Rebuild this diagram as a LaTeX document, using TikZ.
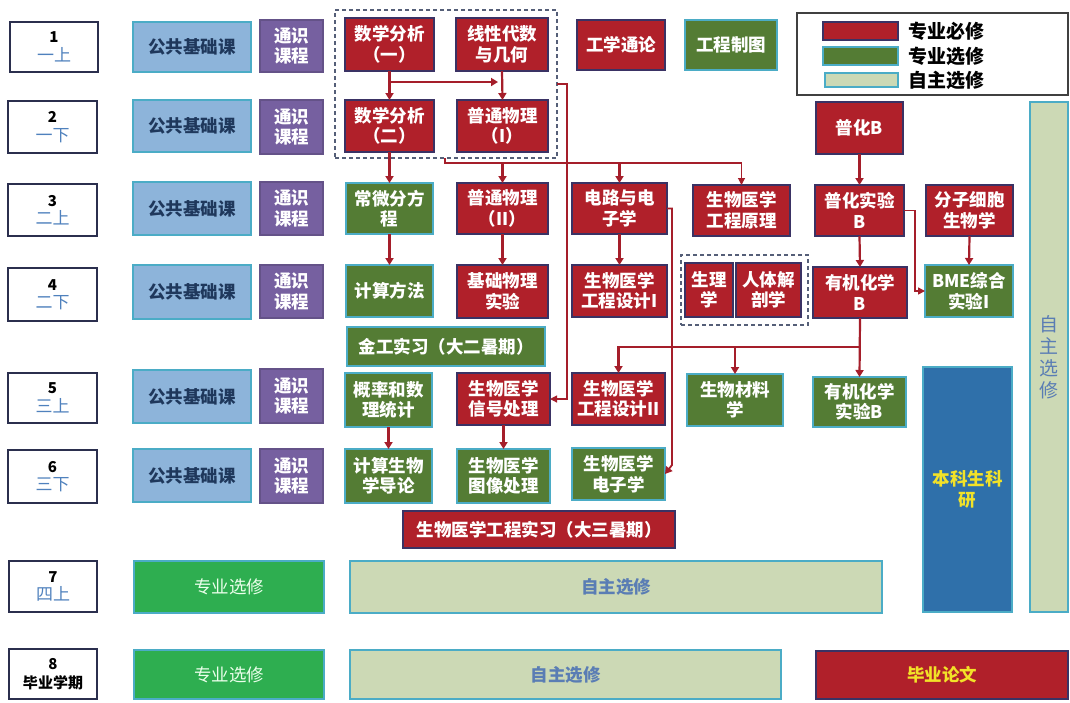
\documentclass[tikz,border=0pt]{standalone}
\usepackage{fontspec}
\setmainfont{Noto Sans CJK SC}
\usetikzlibrary{arrows.meta,calc}
\definecolor{cred}{RGB}{176,32,42}
\definecolor{credb}{RGB}{58,50,100}
\definecolor{cgreen}{RGB}{84,124,52}
\definecolor{ccyan}{RGB}{75,172,198}
\definecolor{cblue}{RGB}{141,180,218}
\definecolor{cnavy}{RGB}{31,56,92}
\definecolor{cpurp}{RGB}{118,96,160}
\definecolor{cbgreen}{RGB}{46,174,80}
\definecolor{clight}{RGB}{204,217,181}
\definecolor{clighttxt}{RGB}{90,125,180}
\definecolor{cresearch}{RGB}{47,112,170}
\definecolor{cyel}{RGB}{242,226,40}
\definecolor{carrow}{RGB}{165,30,42}
\definecolor{csem}{RGB}{43,47,78}
\definecolor{csemtxt}{RGB}{79,129,189}
\definecolor{cgrp}{RGB}{85,95,120}
\newcommand\rbox[7]{\node[#6, minimum width={(#4-#2)*1pt}, minimum height={(#5-#3)*1pt}] (#1) at ({(#2+#4)/2},{(#3+#5)/2}) {#7};}
\newcommand\semtxt[2]{{\fontsize{15}{17}\selectfont\bfseries #1}\\[-2pt]{\color{csemtxt}\fontsize{17}{19}\selectfont\mdseries #2}}
\tikzset{
  base/.style={draw, line width=1.2pt, inner sep=0pt, outer sep=0pt, align=center, font=\fontsize{17.5}{20.5}\selectfont\bfseries},
  req/.style={base, fill=cred, draw=credb, text=white},
  ele/.style={base, fill=cgreen, draw=ccyan, text=white},
  pub/.style={base, fill=cblue, draw=ccyan, text=cnavy},
  gen/.style={base, fill=cpurp, draw=cpurp!85!black, text=white},
  sem/.style={base, fill=white, draw=csem, line width=1.3pt, text=black},
  bgr/.style={base, fill=cbgreen, draw=ccyan, text=white!92!green, font=\fontsize{17.5}{20.5}\selectfont},
  free/.style={base, fill=clight, draw=ccyan, text=clighttxt},
  freev/.style={free, font=\fontsize{19}{22}\selectfont},
  res/.style={base, fill=cresearch, draw=ccyan, text=cyel},
  thes/.style={req, text=cyel},
  grp/.style={draw=cgrp, dash pattern=on 4pt off 3pt, line width=1.1pt, inner sep=0pt, outer sep=0pt},
  leg/.style={draw=gray!50!black, line width=1.2pt, fill=white, inner sep=0pt, outer sep=0pt},
  legt/.style={anchor=west, inner sep=0pt, font=\fontsize{19}{21}\selectfont\bfseries, text=black},
  arr/.style={draw=carrow, line width=2.2pt, -{Triangle[length=7pt,width=8pt]}},
  tarr/.style={draw=carrow, line width=1.1pt, -{Triangle[length=7pt,width=7pt]}}
}
\begin{document}
\begin{tikzpicture}[x=1pt,y=-1pt]
\useasboundingbox[fill=white] (0,0) rectangle (1070,702);
% semester labels
\rbox{sem1}{10}{22}{98}{72}{sem}{\semtxt{1}{一上}}
\rbox{sem2}{8}{101}{97}{153}{sem}{\semtxt{2}{一下}}
\rbox{sem3}{8}{184}{97}{236}{sem}{\semtxt{3}{二上}}
\rbox{sem4}{8}{268}{97}{321}{sem}{\semtxt{4}{二下}}
\rbox{sem5}{8}{373}{97}{423}{sem}{\semtxt{5}{三上}}
\rbox{sem6}{8}{450}{97}{503}{sem}{\semtxt{6}{三下}}
\rbox{sem7}{9}{561}{97}{612}{sem}{\semtxt{7}{四上}}
\rbox{sem8}{9}{649}{97}{699}{sem}{{\fontsize{15}{17}\selectfont\bfseries 8}\\[-2pt]{\fontsize{15}{17}\selectfont\bfseries 毕业学期}}
% public courses
\rbox{pub1}{133}{22}{251}{72}{pub}{公共基础课}
\rbox{pub2}{133}{100}{251}{152}{pub}{公共基础课}
\rbox{pub3}{133}{182}{251}{235}{pub}{公共基础课}
\rbox{pub4}{133}{265}{251}{319}{pub}{公共基础课}
\rbox{pub5}{133}{370}{251}{423}{pub}{公共基础课}
\rbox{pub6}{133}{449}{251}{502}{pub}{公共基础课}
% general
\rbox{gen1}{260}{20}{323}{72}{gen}{通识\\课程}
\rbox{gen2}{260}{100}{323}{154}{gen}{通识\\课程}
\rbox{gen3}{260}{182}{323}{235}{gen}{通识\\课程}
\rbox{gen4}{260}{265}{323}{318}{gen}{通识\\课程}
\rbox{gen5}{260}{369}{323}{423}{gen}{通识\\课程}
\rbox{gen6}{260}{449}{323}{503}{gen}{通识\\课程}
% groups
\rbox{mathg}{335}{10}{557}{158}{grp}{}
\rbox{physg}{681}{255}{808}{325}{grp}{}
% row 1-2
\rbox{ma1}{345}{18}{434}{71}{req}{数学分析\\（一）}
\rbox{la}{456}{18}{548}{71}{req}{线性代数\\与几何}
\rbox{ma2}{345}{100}{434}{152}{req}{数学分析\\（二）}
\rbox{pw1}{457}{100}{548}{152}{req}{普通物理\\（I）}
\rbox{intro}{577}{20}{665}{70}{req}{工学通论}
\rbox{ged}{685}{20}{777}{70}{ele}{工程制图}
\rbox{pcb}{816}{102}{903}{154}{req}{普化B}
\rbox{freecol}{1030}{102}{1068}{612}{freev}{自\\主\\选\\修}
% legend
\rbox{legend}{797}{13}{1068}{95}{leg}{}
\rbox{sw1}{823}{22}{898}{40}{req}{}
\rbox{sw2}{823}{47}{898}{65}{ele}{}
\rbox{sw3}{825}{73}{898}{87}{free}{}
\node[legt] (lt1) at ($(sw1.east)+(10,0)$) {专业必修};
\node[legt] (lt2) at ($(sw2.east)+(10,0)$) {专业选修};
\node[legt] (lt3) at ($(sw3.east)+(10,0)$) {自主选修};
% row 3
\rbox{ode}{346}{183}{433}{234}{ele}{常微分方\\程}
\rbox{pw2}{457}{183}{548}{234}{req}{普通物理\\（II）}
\rbox{circ}{572}{183}{667}{234}{req}{电路与电\\子学}
\rbox{bmep}{693}{185}{790}{236}{req}{生物医学\\工程原理}
\rbox{pcexp}{815}{185}{904}{236}{req}{普化实验\\B}
\rbox{mcb}{926}{185}{1013}{236}{req}{分子细胞\\生物学}
% row 4
\rbox{calc}{346}{265}{433}{317}{ele}{计算方法}
\rbox{phyexp}{457}{265}{548}{318}{req}{基础物理\\实验}
\rbox{bmed1}{572}{265}{667}{317}{req}{生物医学\\工程设计I}
\rbox{physio}{685}{263}{733}{317}{req}{生理\\学}
\rbox{anat}{736}{263}{801}{317}{req}{人体解\\剖学}
\rbox{orgb}{813}{267}{907}{318}{req}{有机化学\\B}
\rbox{bme1}{925}{265}{1013}{317}{ele}{BME综合\\实验I}
\rbox{metal}{347}{327}{545}{366}{ele}{金工实习（大二暑期）}
% row 5
\rbox{prob}{345}{373}{432}{427}{ele}{概率和数\\理统计}
\rbox{sig}{457}{373}{550}{425}{req}{生物医学\\信号处理}
\rbox{bmed2}{572}{373}{665}{425}{req}{生物医学\\工程设计II}
\rbox{biomat}{687}{374}{783}{426}{ele}{生物材料\\学}
\rbox{orgexp}{813}{377}{906}{427}{ele}{有机化学\\实验B}
\rbox{research}{923}{367}{1012}{612}{res}{本科生科\\研}
% row 6
\rbox{compbio}{345}{449}{432}{503}{ele}{计算生物\\学导论}
\rbox{img}{457}{449}{550}{503}{ele}{生物医学\\图像处理}
\rbox{bmeel}{572}{448}{665}{500}{ele}{生物医学\\电子学}
\rbox{intern}{403}{511}{675}{548}{req}{生物医学工程实习（大三暑期）}
% rows 7-8
\rbox{el7}{134}{561}{324}{613}{bgr}{专业选修}
\rbox{free7}{350}{561}{882}{613}{free}{自主选修}
\rbox{el8}{134}{650}{324}{699}{bgr}{专业选修}
\rbox{free8}{350}{650}{781}{699}{free}{自主选修}
\rbox{thesis}{816}{651}{1068}{699}{thes}{毕业论文}
% connectors
\coordinate (j1) at ($(ma1.south)+(0,11)$);
\draw[arr] (ma1.south) -- (ma2.north);
\draw[arr] (j1) -- ($(j1 -| la.south)+(-4,0)$);
\draw[arr] (la.south) -- (pw1.north);
\draw[tarr] (mathg.east) -| ($(sig.east)+(17,0)$) -- (sig.east);
\coordinate (gb) at ($(mathg.south west)+(110,0)$);
\coordinate (hl) at ($(gb)+(0,5)$);
\draw[tarr] (gb) -- (hl) -| (bmep.north);
\draw[arr] (hl -| pw2.north) -- (pw2.north);
\draw[arr] (hl -| circ.north) -- (circ.north);
\draw[arr] (ma2.south) -- (ode.north);
\draw[arr] (ode.south) -- (calc.north);
\draw[arr] (pw2.south) -- (phyexp.north);
\draw[arr] (circ.south) -- (bmed1.north);
\draw[arr, line width=1.8pt] (circ.east) -| ($(bmeel.east)+(7,-9)$) -- (bmeel.east);
\draw[arr] (pcb.south) -- (pcexp.north);
\draw[arr] (pcexp.south) -- (orgb.north);
\draw[tarr, line width=1.5pt] (pcexp.east) -- ++(11,0) |- (bme1.west);
\draw[arr] (mcb.south) -- (bme1.north);
\coordinate (br) at ($(orgb.south)+(0,29)$);
\draw[arr] (orgb.south) -- (orgexp.north);
\draw[arr] (br) -| (bmed2.north);
\draw[arr] (br -| biomat.north) -- (biomat.north);
\draw[arr] (prob.south) -- (compbio.north);
\draw[arr] (sig.south) -- (img.north);
\end{tikzpicture}
\end{document}
